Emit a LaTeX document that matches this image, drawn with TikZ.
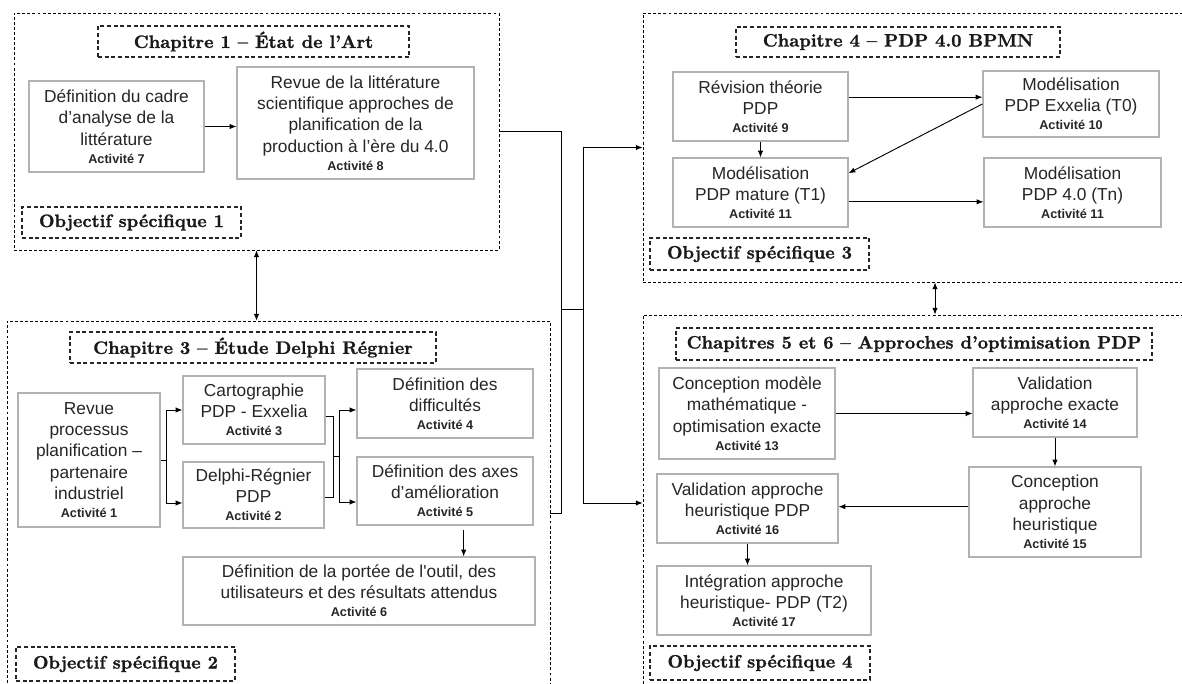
\documentclass[tikz,border=0pt]{standalone}
\usepackage{fontspec}
\newfontfamily\arialf{Liberation Sans}
\newfontfamily\titref[FakeBold=1.2]{lmroman10-bold.otf}
\usetikzlibrary{arrows.meta,positioning,shadows}

\newcommand\activite[1]{\\[-2.5pt]{\fontsize{9.5}{11}\selectfont\bfseries Activité #1}}

\begin{document}
\begin{tikzpicture}[x=0.75pt,y=-0.75pt,
    >={Latex[length=5pt,width=4pt]},
    sz/.style 2 args={minimum width=#1*0.75pt, minimum height=#2*0.75pt},
    chapbox/.style={draw, dash pattern=on 2.2pt off 1.6pt, line width=0.6pt, inner sep=0pt},
    titlebox/.style={draw=black!85, dash pattern=on 3pt off 2pt, line width=0.8pt, inner sep=0pt,
      text=black!90, font=\titref\fontsize{13.5}{16}\selectfont},
    act/.style={draw=black!30, line width=0.9pt, fill=white, inner sep=0pt, align=center,
      text=black!85, font=\arialf\fontsize{13}{16}\selectfont,
      drop shadow={shadow xshift=1pt, shadow yshift=-1pt, opacity=0.2}},
    link/.style={line width=0.7pt}
  ]
    \useasboundingbox (0,0) rectangle (1182,684);
    \clip (0,0) rectangle (1182,684);

    % Chapitre 1
    \node[chapbox, sz={485}{237}] (ch1) at (256.5,131.5) {};
    \node[titlebox, sz={311}{31}] (t1) at (253.5,41.5) {Chapitre 1 – État de l’Art};
    \node[act, sz={175}{91}] (a7) at (116.5,126.5) {Définition du cadre\\d’analyse de la\\littérature\activite{7}};
    \node[act, sz={237}{112}] (a8) at (355.5,123) {Revue de la littérature\\scientifique approches de\\planification de la\\production à l’ère du 4.0\activite{8}};
    \node[titlebox, sz={219}{31}] (o1) at (131.5,222.5) {Objectif spécifique 1};

    % Chapitre 3
    \node[chapbox, sz={543}{384}] (ch3) at (278.5,513) {};
    \node[titlebox, sz={366}{31}] (t3) at (253,347.5) {Chapitre 3 – Étude Delphi Régnier};
    \node[act, sz={142}{134}] (a1) at (89,460) {Revue\\processus\\planification –\\partenaire\\industriel\activite{1}};
    \node[act, sz={142}{68}] (a3) at (254,410) {Cartographie\\PDP - Exxelia\activite{3}};
    \node[act, sz={141}{66}] (a2) at (253.5,495) {Delphi-Régnier\\PDP\activite{2}};
    \node[act, sz={176}{69}] (a4) at (445,403.5) {Définition des\\difficultés\activite{4}};
    \node[act, sz={176}{68}] (a5) at (445,491) {Définition des axes\\d’amélioration\activite{5}};
    \node[act, sz={352}{68}] (a6) at (359,591) {Définition de la portée de l'outil, des\\utilisateurs et des résultats attendus\activite{6}};
    \node[titlebox, sz={219}{34}] (o2) at (125.5,664) {Objectif spécifique 2};

    % Chapitre 4
    \node[chapbox, sz={584}{269}] (ch4) at (935,147.5) {};
    \node[titlebox, sz={324}{30}] (t4) at (898,42) {Chapitre 4 – PDP 4.0 BPMN};
    \node[act, sz={175}{69}] (a9) at (760.5,106.5) {Révision théorie\\PDP\activite{9}};
    \node[act, sz={176}{66}] (a10) at (1071,104) {Modélisation\\PDP Exxelia (T0)\activite{10}};
    \node[act, sz={175}{69}] (a11a) at (760.5,192.5) {Modélisation\\PDP mature (T1)\activite{11}};
    \node[act, sz={177}{69}] (a11b) at (1072.5,192.5) {Modélisation\\PDP 4.0 (Tn)\activite{11}};
    \node[titlebox, sz={219}{32}] (o3) at (759.5,254) {Objectif spécifique 3};

    % Chapitres 5 et 6
    \node[chapbox, sz={584}{376}] (ch56) at (935,503) {};
    \node[titlebox, sz={476}{32}] (t56) at (914,344) {Chapitres 5 et 6 – Approches d’optimisation PDP};
    \node[act, sz={176}{91}] (a13) at (747,413.5) {Conception modèle\\mathématique -\\optimisation exacte\activite{13}};
    \node[act, sz={164}{69}] (a14) at (1055,402.5) {Validation\\approche exacte\activite{14}};
    \node[act, sz={172}{90}] (a15) at (1055,512) {Conception\\approche\\heuristique\activite{15}};
    \node[act, sz={181}{69}] (a16) at (747.5,508.5) {Validation approche\\heuristique PDP\activite{16}};
    \node[act, sz={214}{69}] (a17) at (764,600.5) {Intégration approche\\heuristique- PDP (T2)\activite{17}};
    \node[titlebox, sz={220}{34}] (o4) at (760,663) {Objectif spécifique 4};

    % liens chapitre 1
    \draw[link,->] (a7.east) -- (a7.east -| a8.west);

    % liens chapitre 3
    \coordinate (b1) at (166,460);
    \coordinate (b2) at (166,503);
    \draw[link] (a1.east) -- (b1);
    \draw[link,->] (b1) |- (a3.west);
    \draw[link,->] (b1) -- (b2) -- (b2 -| a2.west);
    \coordinate (m1) at (333,456);
    \coordinate (m2) at (339,456);
    \coordinate (m4) at (339,410);
    \coordinate (m5) at (339,502);
    \draw[link] ([yshift=-4.5pt]a3.east) -| (m1) -- (m2);
    \draw[link] ([yshift=-2pt]a2.east) -| (m1);
    \draw[link,->] (m2) -- (m4) -- (m4 -| a4.west);
    \draw[link,->] (m2) -- (m5) -- (m5 -| a5.west);
    \draw[link,->,shorten <=3pt] ([xshift=14pt]a5.south) -- ([xshift=14pt]a5.south |- a6.north);

    % liens chapitre 4
    \draw[link,->] ([yshift=7pt]a9.east) -- ([yshift=7pt]a9.east -| a10.west);
    \draw[link,->] (a10.west) -- ([yshift=14.5pt]a11a.east);
    \draw[link,->] (a9) -- (a11a);
    \draw[link,->] ([yshift=-7pt]a11a.east) -- ([yshift=-7pt]a11a.east -| a11b.west);

    % liens chapitres 5 et 6
    \draw[link,->] (a13.east) -- (a13.east -| a14.west);
    \draw[link,->] (a14) -- (a15);
    \draw[link,->] ([yshift=4pt]a15.west) -- ([yshift=4pt]a15.west -| a16.east);
    \draw[link,->] (a16.south) -- (a16.south |- a17.north);

    % liens entre chapitres
    \coordinate (j1) at (561,309);
    \coordinate (j2) at (583,309);
    \draw[link] (ch1.east) -| (j1);
    \draw[link] (ch3.east) -| (j1);
    \draw[link] (j1) -- (j2);
    \draw[link,->] (j2) |- (ch4.west);
    \draw[link,->] (j2) |- (ch56.west);
    \draw[link,<->] (ch1.south) -- (ch1.south |- ch3.north);
    \draw[link,<->] (ch4.south) -- (ch4.south |- ch56.north);
\end{tikzpicture}
\end{document}
